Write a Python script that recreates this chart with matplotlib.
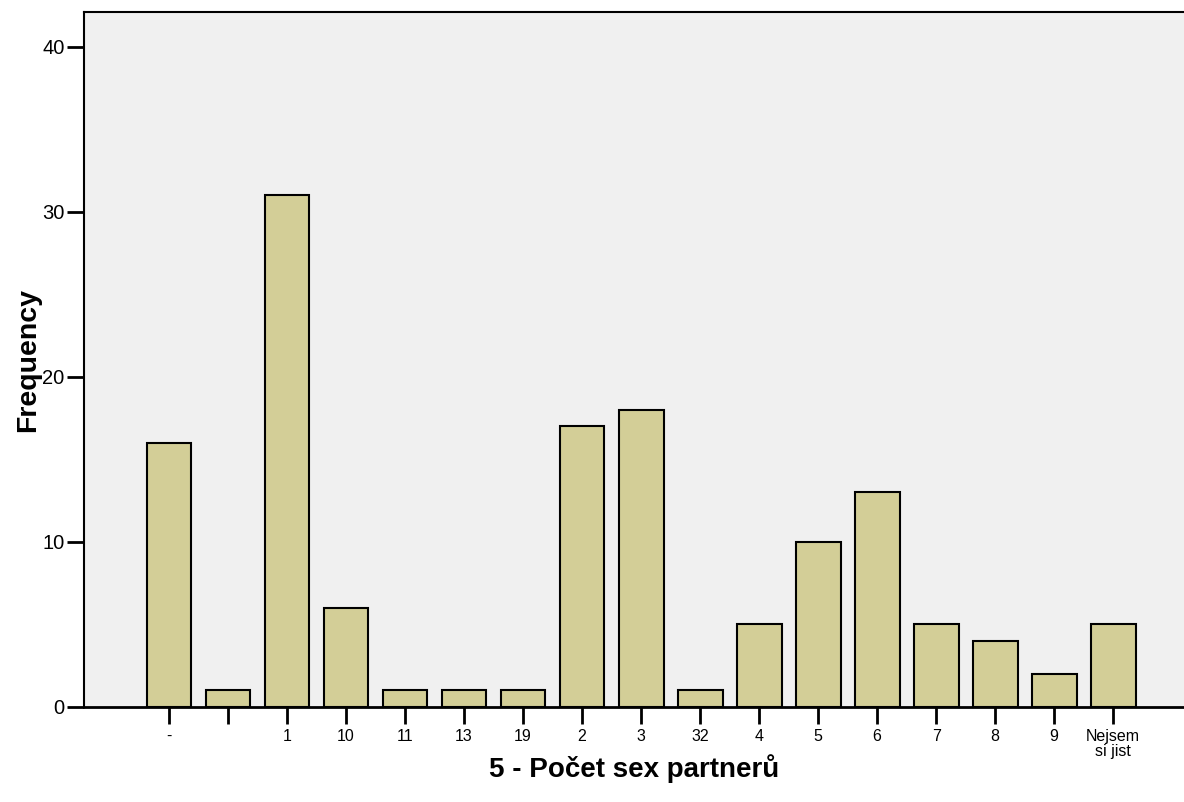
import numpy as np
import matplotlib
matplotlib.use('Agg')
import matplotlib.pyplot as plt

categories = ['-', ' ', '1', '10', '11', '13', '19', '2', '3', '32', '4', '5', '6', '7', '8', '9', 'Nejsem\nsi jist']
counts = [16, 1, 31, 6, 1, 1, 1, 17, 18, 1, 5, 10, 13, 5, 4, 2, 5]

plt.rcParams['font.family'] = ['Liberation Sans', 'DejaVu Sans']

fig = plt.figure(figsize=(11.84, 8.02), dpi=100)
ax = fig.add_axes([84/1184, 95/802, 1 - 84/1184, (707 - 12)/802])
ax.set_facecolor('#f0f0f0')

x = np.arange(len(categories))
ax.bar(x, counts, width=0.76, color='#d3ce97', edgecolor='black', linewidth=1.5, zorder=3)

ax.set_xlim(-1.44, 17.2)
ax.set_ylim(0, 42.1)
ax.set_yticks([0, 10, 20, 30, 40])
ax.set_xticks(x)
ax.set_xticklabels(categories, fontsize=11.5, linespacing=0.95)
ax.tick_params(axis='y', labelsize=14.5, length=12, width=2, pad=2)
ax.tick_params(axis='x', length=12, width=2, pad=4)

for s in ['left', 'top', 'bottom']:
    ax.spines[s].set_linewidth(1.5)
ax.spines['bottom'].set_linewidth(2)
ax.spines['right'].set_visible(False)

ax.set_ylabel('Frequency', fontsize=20.5, fontweight='bold', labelpad=1)
ax.set_xlabel('5 - Počet sex partnerů', fontsize=20, fontweight='bold', labelpad=-3)

fig.savefig('out.png', dpi=100)
